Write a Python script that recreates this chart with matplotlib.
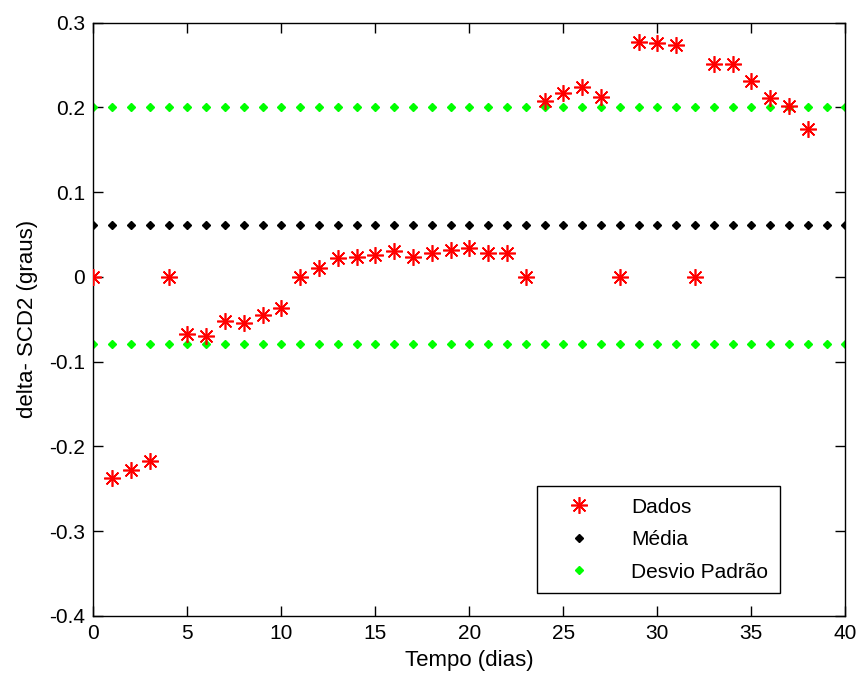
import numpy as np
import matplotlib
matplotlib.use("Agg")
import matplotlib.pyplot as plt

# ---------------- Data ----------------
dias = list(range(0, 39))
dados = [0.0, -0.238, -0.228, -0.2175, 0.0, -0.068, -0.070, -0.052, -0.054, -0.0455,
         -0.037, 0.0, 0.011, 0.022, 0.024, 0.026, 0.030, 0.023, 0.028, 0.032,
         0.034, 0.028, 0.028, 0.0, 0.208, 0.2166, 0.2245, 0.212, 0.0, 0.2776,
         0.2757, 0.2737, 0.0, 0.251, 0.251, 0.231, 0.2107, 0.2016, 0.174]

dias_ref = list(range(0, 41))
media = 0.061
desvio = 0.14

plt.rcParams['font.family'] = ['Liberation Sans', 'DejaVu Sans']
plt.rcParams['font.size'] = 15

fig = plt.figure(figsize=(8.6, 6.77), dpi=100)
ax = fig.add_axes([0.1085, 0.0905, 0.8745, 0.876])

ax.plot(dias, dados, linestyle='none', marker=(8, 2, 0), markersize=12,
        markeredgewidth=1.2, color='red', label='Dados', zorder=3)
ax.plot(dias_ref, [media] * len(dias_ref), linestyle='none', marker='D',
        markersize=4.5, color='black', label='Média', zorder=2)
ax.plot(dias_ref, [media + desvio] * len(dias_ref), linestyle='none', marker='D',
        markersize=4.5, color='#00ff00', label='Desvio Padrão', zorder=2)
ax.plot(dias_ref, [media - desvio] * len(dias_ref), linestyle='none', marker='D',
        markersize=4.5, color='#00ff00', zorder=2)

ax.set_xlim(0, 40)
ax.set_ylim(-0.4, 0.3)
ax.set_xticks(np.arange(0, 41, 5))
ax.set_yticks(np.arange(-0.4, 0.31, 0.1))
ax.set_yticklabels(['-0.4', '-0.3', '-0.2', '-0.1', '0', '0.1', '0.2', '0.3'])
ax.tick_params(direction='in', length=7, width=1, top=True, right=True, pad=6)
for s in ax.spines.values():
    s.set_linewidth(1)

ax.set_xlabel('Tempo (dias)', fontsize=16, labelpad=5)
ax.set_ylabel('delta- SCD2 (graus)', fontsize=16, labelpad=8)

leg = ax.legend(loc='lower right', bbox_to_anchor=(0.913, 0.038), fancybox=False,
                framealpha=1, edgecolor='black', borderpad=0.55, labelspacing=0.65,
                handlelength=3.0, handletextpad=1.0, borderaxespad=0)
leg.get_frame().set_linewidth(1)

fig.savefig('out.png', dpi=100)
